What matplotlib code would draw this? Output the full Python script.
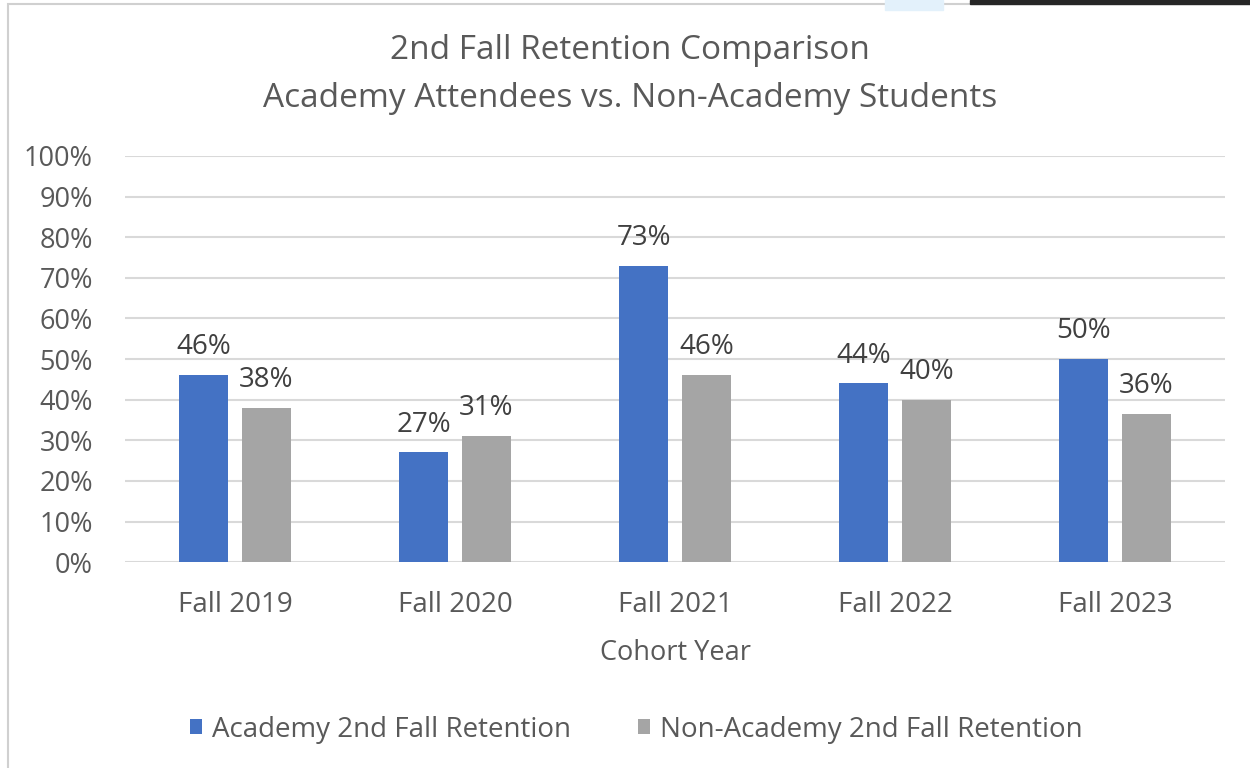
# 2nd fall retention comparison bar chart (Excel style)

import numpy as np
import matplotlib.pyplot as plt
from matplotlib.patches import Rectangle
from matplotlib.ticker import PercentFormatter

plt.rcParams['font.family'] = ['Open Sans', 'DejaVu Sans']

# Data
cohorts = ['Fall 2019', 'Fall 2020', 'Fall 2021', 'Fall 2022', 'Fall 2023']
academy = [46, 27, 73, 44, 50]
non_academy = [38, 31, 46, 40, 36.4]
series_names = ['Academy 2nd Fall Retention', 'Non-Academy 2nd Fall Retention']

blue = '#4472C4'
grey = '#A5A5A5'
txt = '#595959'

fig = plt.figure(figsize=(12.5, 7.68), dpi=100)
ax = fig.add_axes([0.1, 0.268, 0.88, 0.529])

x = np.arange(len(cohorts))
w = 0.222
b1 = ax.bar(x - 0.143, academy, w, color=blue, label=series_names[0], zorder=3)
b2 = ax.bar(x + 0.143, non_academy, w, color=grey, label=series_names[1], zorder=3)

for bars, vals in [(b1, academy), (b2, non_academy)]:
    for rect, v in zip(bars, vals):
        ax.annotate(f'{v:.0f}%', (rect.get_x() + rect.get_width() / 2, v),
                    xytext=(0, 10), textcoords='offset points',
                    ha='center', va='bottom', fontsize=20, color='#404040')

ax.set_ylim(0, 100)
ax.set_xlim(-0.5, len(cohorts) - 0.5)
ax.set_yticks(range(0, 101, 10))
ax.yaxis.set_major_formatter(PercentFormatter(decimals=0))
ax.set_xticks(x)
ax.set_xticklabels(cohorts)
ax.tick_params(axis='both', length=0, colors=txt)
ax.tick_params(axis='y', pad=23, labelsize=19.5)
ax.tick_params(axis='x', pad=21, labelsize=20)
ax.grid(axis='y', color='#D9D9D9', linewidth=1.5, zorder=0)
for s in ax.spines.values():
    s.set_visible(False)

ax.set_xlabel('Cohort Year', fontsize=19.5, color=txt, labelpad=14)

fig.text(0.504, 0.934, '2nd Fall Retention Comparison', ha='center', va='center',
         fontsize=24, color=txt)
fig.text(0.504, 0.872, 'Academy Attendees vs. Non-Academy Students', ha='center',
         va='center', fontsize=24, color=txt)

fig.legend(handles=[b1, b2], loc='center', bbox_to_anchor=(0.509, 0.05), ncol=2,
           frameon=False, fontsize=20, labelcolor=txt, handlelength=0.45,
           handleheight=0.45, handletextpad=0.36, columnspacing=2.4)

# chart border and screenshot edges
fig.patches.append(Rectangle((8 / 1250, -0.01), 1.1, 1 - 4 / 768 + 0.01,
                             transform=fig.transFigure, fill=False,
                             edgecolor='#D0D0D0', linewidth=1.5))
fig.patches.append(Rectangle((970 / 1250, 1 - 4 / 768), 0.3, 4 / 768,
                             transform=fig.transFigure, color='#262626'))
fig.patches.append(Rectangle((885 / 1250, 1 - 10 / 768), 58 / 1250, 10 / 768,
                             transform=fig.transFigure, color='#E3F1FB'))

fig.savefig('out.png', dpi=100)
